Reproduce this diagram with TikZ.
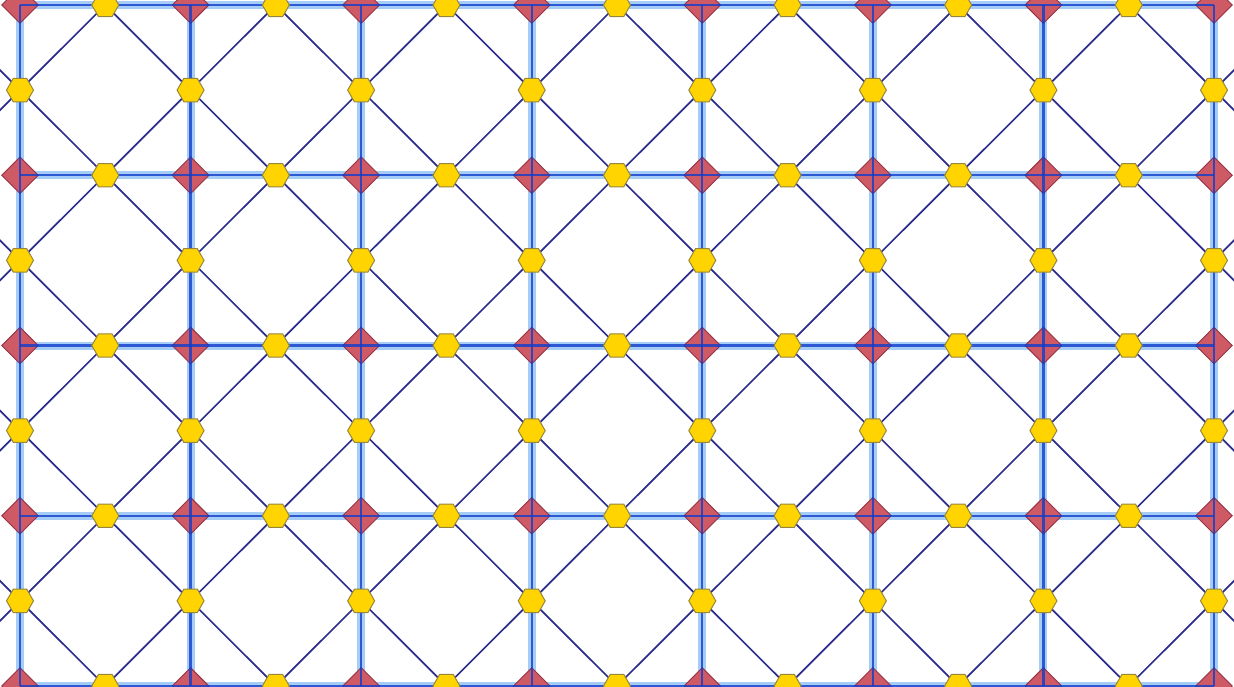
\documentclass[tikz,border=0pt]{standalone}
\usetikzlibrary{shapes.geometric}
\definecolor{halo}{RGB}{165,205,245}
\definecolor{core}{RGB}{15,60,205}
\definecolor{diag}{RGB}{45,45,140}
\definecolor{dfill}{RGB}{205,90,100}
\definecolor{dline}{RGB}{150,50,70}
\definecolor{hfill}{RGB}{255,212,0}
\definecolor{hline}{RGB}{150,135,60}
\tikzset{
  site/.style={diamond, draw=dline, fill=dfill, line width=0.9pt, minimum width=37pt, minimum height=37pt, inner sep=0pt},
  link/.style={regular polygon, regular polygon sides=6, draw=hline, fill=hfill, line width=1pt, minimum size=27pt, inner sep=0pt},
  haloline/.style={draw=halo, line width=8pt},
  coreline/.style={draw=core, line width=2.2pt, draw opacity=0.8},
  diagline/.style={draw=diag, line width=1.7pt},
}
\begin{document}
\begin{tikzpicture}[x=1pt,y=-1pt]
\useasboundingbox (0,0) rectangle (1234,687);
\clip (0,0) rectangle (1234,687);
% lattice sites
\foreach \i in {0,...,7}{\foreach \j in {0,...,4}{
  \coordinate (P-\i-\j) at ({20+170.571*\i},{5+170.25*\j});}}
% horizontal-edge midpoints
\foreach \i in {-1,...,7}{\foreach \j in {-1,...,5}{
  \coordinate (H-\i-\j) at ({20+170.571*(\i+0.5)},{5+170.25*\j});}}
% vertical-edge midpoints
\foreach \i in {-1,...,8}{\foreach \j in {-1,...,4}{
  \coordinate (V-\i-\j) at ({20+170.571*\i},{5+170.25*(\j+0.5)});}}
% halo of grid lines
\foreach \j in {0,...,4}{\draw[haloline] (P-0-\j) -- (P-7-\j);}
\foreach \i in {0,...,7}{\draw[haloline] (P-\i-0) -- (P-\i-4);}
% diamonds
\foreach \i in {0,...,7}{\foreach \j in {0,...,4}{
  \node[site] (D-\i-\j) at (P-\i-\j) {};}}
% core of grid lines
\foreach \j in {0,...,4}{\draw[coreline] (P-0-\j) -- (P-7-\j);}
\foreach \i in {0,...,7}{\draw[coreline] (P-\i-0) -- (P-\i-4);}
% diagonals
\foreach \i in {0,...,7}{\foreach \j in {-1,...,4}{
  \pgfmathtruncatemacro{\a}{\i-1}
  \pgfmathtruncatemacro{\b}{\j+1}
  \draw[diagline] (H-\a-\j) -- (V-\i-\j) -- (H-\i-\j);
  \draw[diagline] (H-\a-\b) -- (V-\i-\j) -- (H-\i-\b);}}
% hexagons
\foreach \i in {0,...,6}{\foreach \j in {0,...,4}{
  \node[link] (HX-\i-\j) at (H-\i-\j) {};}}
\foreach \i in {0,...,7}{\foreach \j in {0,...,3}{
  \node[link] (VX-\i-\j) at (V-\i-\j) {};}}
\end{tikzpicture}
\end{document}
